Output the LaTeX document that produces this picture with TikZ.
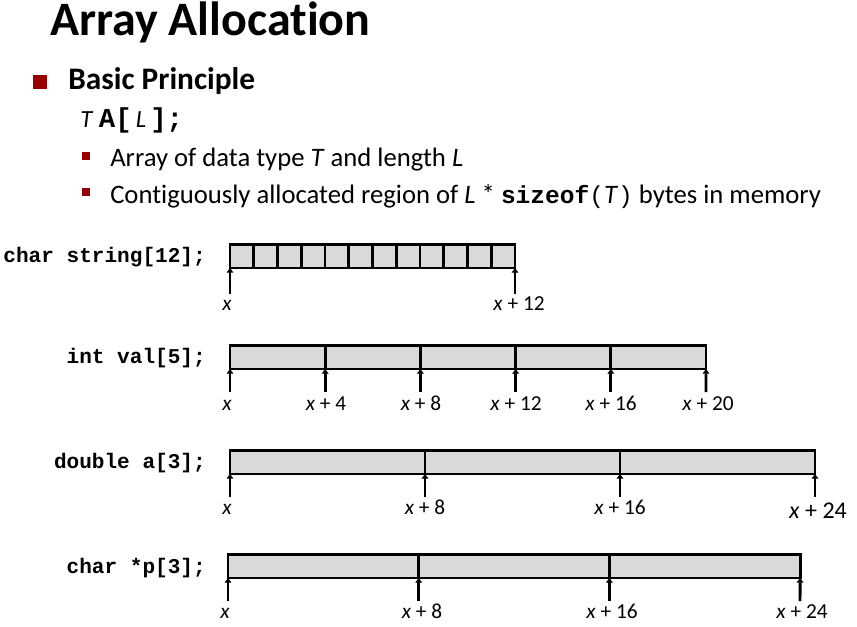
\documentclass[tikz,border=0pt]{standalone}
\usepackage{fontspec}
\setmainfont{Carlito}[Ligatures=NoCommon]
\newfontfamily\codefont{Liberation Mono}
\usetikzlibrary{arrows.meta}
\definecolor{bulletred}{HTML}{990000}
\definecolor{cellgray}{HTML}{D9D9D9}
\newcommand{\cbold}[1]{{\codefont\bfseries\fontsize{18.4}{20}\selectfont #1}}
\newcommand{\cplain}[1]{{\codefont\fontsize{18.4}{20}\selectfont #1}}
\newcommand{\cwide}[1]{{\codefont\bfseries\fontsize{20.5}{22}\selectfont #1}}

\begin{document}
\begin{tikzpicture}[x=0.75pt, y=-0.75pt,
    cell/.style={draw, fill=cellgray, line width=2.2pt,
        inner sep=0pt, outer sep=0pt,
        minimum height=17.7pt, minimum width=#1*0.75pt,
        anchor=south west},
    ptr/.style={line width=2.2pt, -{Triangle[width=5pt,length=3.5pt]}},
    addr/.style={anchor=base, inner sep=0pt, font=\fontsize{16}{18}\selectfont},
    decl/.style={anchor=base east, inner sep=0pt,
        font=\codefont\bfseries\fontsize{15.8}{18}\selectfont},
    bigbox/.style={fill=bulletred, minimum size=10.5pt, inner sep=0pt},
    smallbox/.style={fill=bulletred, minimum size=6pt, inner sep=0pt},
    txt/.style={anchor=base west, inner sep=0pt}
]
\useasboundingbox (0,0) rectangle (857,626);

% heading and bullets
\node[txt, font=\bfseries\fontsize{36}{40}\selectfont] (title) at (50,35) {Array Allocation};
\node[bigbox] (b1) at (40,82) {};
\node[txt, font=\bfseries\fontsize{23.5}{28}\selectfont] (basic) at (68,89) {Basic Principle};
\node[txt, font=\fontsize{18.5}{20}\selectfont] (syntax) at (80,127)
    {\textit{T} \cwide{A[}\,\textit{L}\,\cwide{];}};
\node[smallbox] (b2) at (86,156) {};
\node[txt, font=\fontsize{20}{22}\selectfont] (line1) at (110,166)
    {Array of data type \textit{T} and length \textit{L}};
\node[smallbox] (b3) at (86,192) {};
\node[txt, font=\fontsize{20}{22}\selectfont] (line2) at (110,203)
    {Contiguously allocated region of \textit{L} * \cbold{sizeof}\cplain{(}\textit{T}\cplain{)} bytes in memory};

% char string[12]
\node[decl] (dstr) at (206,262) {char string[12];};
\foreach \i in {0,...,11}
    \node[cell=23.75] (s\i) at ({230+23.75*\i},268) {};
\coordinate (sx0) at (230,294);
\coordinate (sx1) at (515,294);
\draw[ptr] (sx0) -- (s0.south west);
\draw[ptr] (sx1) -- (s11.south east);
\node[addr] (ls0) at (227,310) {\textit{x}};
\node[addr] (ls1) at (519,310) {\textit{x} + 12};

% int val[5]
\node[decl] (dval) at (206,363) {int val[5];};
\foreach \i in {0,...,4} {
    \node[cell=95.2] (v\i) at ({230+95.2*\i},369) {};
    \coordinate (vx\i) at ({230+95.2*\i},392);
    \draw[ptr] (vx\i) -- (v\i.south west);
}
\coordinate (vx5) at (706,392);
\draw[ptr] (vx5) -- (v4.south east);
\node[addr] (lv0) at (227,410) {\textit{x}};
\node[addr] (lv1) at (326,410) {\textit{x} + 4};
\node[addr] (lv2) at (421,410) {\textit{x} + 8};
\node[addr] (lv3) at (516,410) {\textit{x} + 12};
\node[addr] (lv4) at (611,410) {\textit{x} + 16};
\node[addr] (lv5) at (708,410) {\textit{x} + 20};

% double a[3]
\node[decl] (ddbl) at (206,468) {double a[3];};
\foreach \i in {0,...,2} {
    \node[cell=195] (d\i) at ({230+195*\i},474) {};
    \coordinate (dx\i) at ({230+195*\i},497);
    \draw[ptr] (dx\i) -- (d\i.south west);
}
\coordinate (dx3) at (815,497);
\draw[ptr] (dx3) -- (d2.south east);
\node[addr] (ld0) at (227,514) {\textit{x}};
\node[addr] (ld1) at (425,514) {\textit{x} + 8};
\node[addr] (ld2) at (620,514) {\textit{x} + 16};
\node[addr, font=\fontsize{18}{20}\selectfont] (ld3) at (818,518) {\textit{x} + 24};

% char *p[3]
\node[decl] (dptr) at (206,573) {char *p[3];};
\foreach \i in {0,...,2} {
    \node[cell=190.7] (p\i) at ({228+190.7*\i},578) {};
    \coordinate (px\i) at ({228+190.7*\i},601);
    \draw[ptr] (px\i) -- (p\i.south west);
}
\coordinate (px3) at (800,601);
\draw[ptr] (px3) -- (p2.south east);
\node[addr] (lp0) at (225,618) {\textit{x}};
\node[addr] (lp1) at (422,618) {\textit{x} + 8};
\node[addr] (lp2) at (612,618) {\textit{x} + 16};
\node[addr] (lp3) at (802,618) {\textit{x} + 24};
\end{tikzpicture}
\end{document}
